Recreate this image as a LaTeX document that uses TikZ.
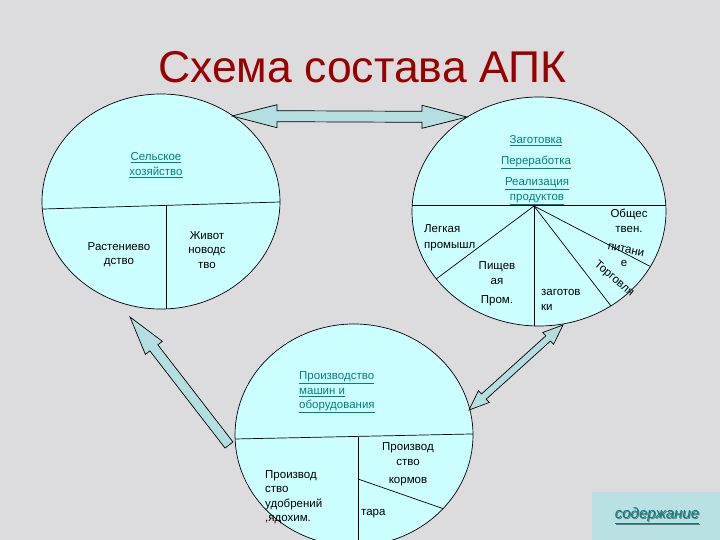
\documentclass[tikz,border=0pt]{standalone}
\usepackage{fontspec}
\setmainfont{Liberation Sans}
\usetikzlibrary{calc}
\definecolor{bg}{RGB}{220,220,223}
\definecolor{cyanfill}{RGB}{204,255,255}
\definecolor{arrowfill}{RGB}{180,222,224}
\definecolor{linkc}{RGB}{0,128,128}
\definecolor{titlec}{RGB}{153,0,0}
\definecolor{boxc}{RGB}{185,224,226}
\newcommand{\myDblArrow}[5]{%
  \path coordinate (h1) at ($(#1)!#4!(#2)$) coordinate (h2) at ($(#2)!#4!(#1)$);
  \draw[barrow] (#1) -- ($(h1)!#5!90:(#2)$) -- ($(h1)!#3!90:(#2)$) -- ($(h2)!#3!-90:(#1)$) -- ($(h2)!#5!-90:(#1)$) -- (#2) -- ($(h2)!#5!90:(#1)$) -- ($(h2)!#3!90:(#1)$) -- ($(h1)!#3!-90:(#2)$) -- ($(h1)!#5!-90:(#2)$) -- cycle;}
\newcommand{\mySglArrow}[5]{%
  \path coordinate (h1) at ($(#1)!#4!(#2)$);
  \draw[barrow] (#1) -- ($(h1)!#5!90:(#2)$) -- ($(h1)!#3!90:(#2)$) -- ($(#2)!#3!-90:(#1)$) -- ($(#2)!#3!90:(#1)$) -- ($(h1)!#3!-90:(#2)$) -- ($(h1)!#5!-90:(#2)$) -- cycle;}
\begin{document}
\begin{tikzpicture}[x=1pt,y=-1pt,
  circ/.style={draw=black, line width=0.7pt, fill=cyanfill},
  div/.style={draw=black, line width=0.7pt},
  txt/.style={font=\fontsize{11.5}{14.5}\selectfont, inner sep=0pt, align=center},
  lnk/.style={txt, text=linkc},
  barrow/.style={draw=black, line width=0.7pt, fill=arrowfill, line join=miter}]

\useasboundingbox (0,0) rectangle (720,540);
\fill[bg] (0,0) rectangle (720,540);

% title
\node[anchor=base west, text=titlec, font=\fontsize{44.5}{50}\selectfont, inner sep=0pt] (title) at (158,83) {Схема состава АПК};

% circles
\draw[circ] (161,201.5) ellipse [x radius=119pt, y radius=107.5pt];
\draw[circ] (539,211.5) ellipse [x radius=127pt, y radius=114.5pt];
\draw[circ] (354,435) ellipse [x radius=119pt, y radius=111pt];

% left circle dividers
\begin{scope}
\clip (161,201.5) ellipse [x radius=119pt, y radius=107.5pt];
\draw[div] (30,209.4) -- (290,201.7);
\draw[div] (166,205.4) -- (166,320);
\end{scope}

% right circle dividers
\begin{scope}
\clip (539,211.5) ellipse [x radius=127pt, y radius=114.5pt];
\coordinate (hub) at (534,206);
\draw[div] (400,205) -- (680,205);
\draw[div] (hub) -- (408,300);
\draw[div] (hub) -- (534,340);
\draw[div] (hub) -- (631,332);
\draw[div] (hub) -- (682,283);
\end{scope}

% bottom circle dividers
\begin{scope}
\clip (354,435) ellipse [x radius=119pt, y radius=111pt];
\draw[div] (225,439.2) -- (485,433.7);
\draw[div] (358,436.7) -- (358,560);
\draw[div] (358,479) -- (470,518);
\end{scope}

% arrows
\coordinate (tl) at (232,116);
\coordinate (tr) at (467,117);
\myDblArrow{tl}{tr}{5.5pt}{45pt}{11.5pt}
\coordinate (ltip) at (130,317);
\coordinate (ltail) at (229,445);
\mySglArrow{ltip}{ltail}{5pt}{39pt}{10.7pt}
\coordinate (rtip) at (563,325);
\coordinate (btip) at (469,410);
\myDblArrow{rtip}{btip}{3.5pt}{20pt}{8pt}

% left circle texts
\node[lnk] (selh) at (156,165) {\underline{Сельское}\\\underline{хозяйство}};
\node[txt] (rast) at (119,254.5) {Растениево\\дство};
\node[txt] (zhiv) at (207,250) {Живот\\новодс\\тво};

% right circle texts
\node[lnk] (zag) at (536,141) {\underline{Заготовка}};
\node[lnk] (per) at (536,162) {\underline{Переработка}};
\node[lnk] (real) at (537,191) {\underline{Реализация}\\\underline{продуктов}};
\node[txt, anchor=west, align=left, font=\fontsize{11.5}{16}\selectfont] (leg) at (424,238) {Легкая\\промышл};
\node[txt] (pisch) at (497,273) {Пищев\\ая};
\node[txt] (prom) at (497,301) {Пром.};
\node[txt, anchor=west, align=left] (zagk) at (541,300) {заготов\\ки};
\node[txt] (obsch) at (629,221) {Общес\\твен.};
\node[txt, rotate=-12] (pit) at (626,250) {питани};
\node[txt] (pite) at (624,263) {е};
\node[txt, rotate=-40] (torg) at (614,279) {Торговля};

% bottom circle texts
\node[lnk, anchor=west, align=left] (mash) at (299,392.5) {\underline{Производство}\\\underline{машин и}\\\underline{оборудования}};
\node[txt] (korm1) at (408,454) {Производ\\ство};
\node[txt] (korm2) at (408,482) {кормов};
\node[txt, anchor=west, align=left] (udob) at (265,497) {Производ\\ство\\удобрений\\,ядохим.};
\node[txt, anchor=west] (tara) at (361,514) {тара};

% contents button
\fill[boxc] (592,492) rectangle (720,540);
\node[font=\fontsize{15}{18}\selectfont\itshape, text=black!55, inner sep=0pt] at (658,517) {\underline{содержание}};
\node[font=\fontsize{15}{18}\selectfont\itshape, text=linkc, inner sep=0pt] (cont) at (657,516) {\underline{содержание}};
\end{tikzpicture}
\end{document}
